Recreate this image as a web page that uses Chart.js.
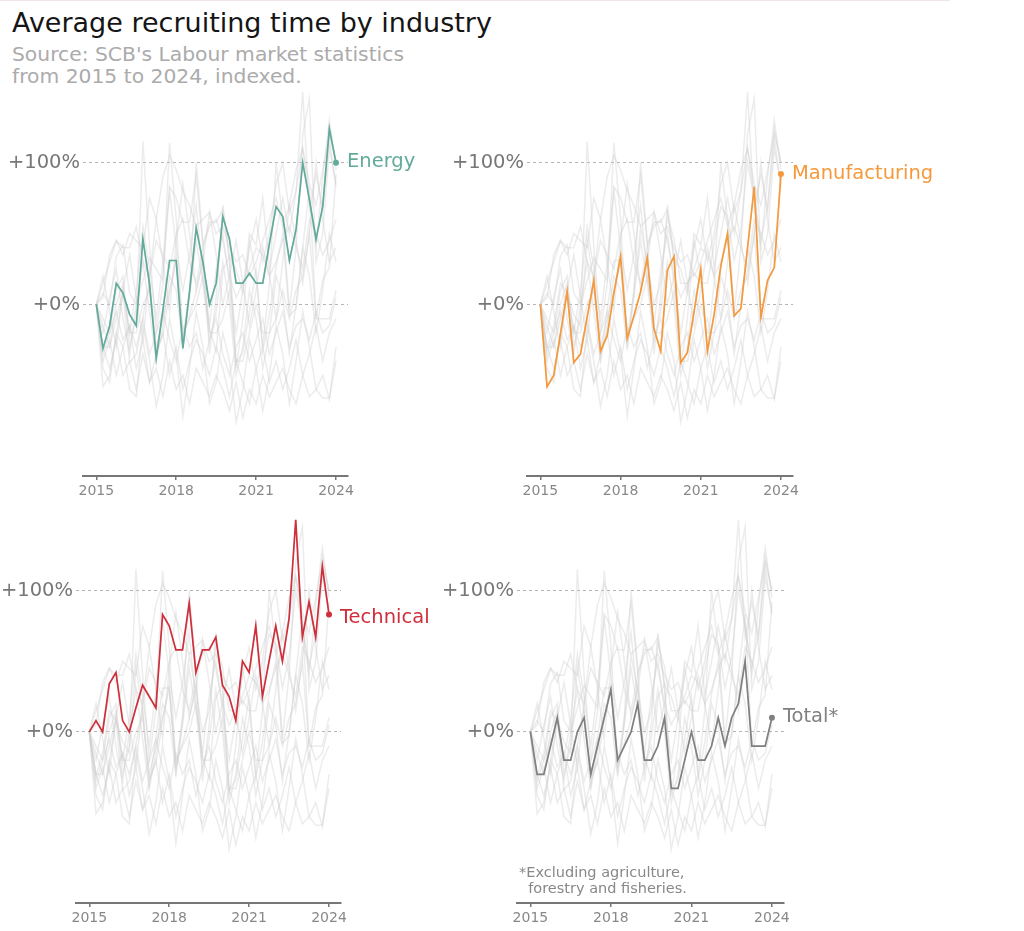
<!DOCTYPE html>
<html lang="en">
<head>
<meta charset="UTF-8">
<title>Average recruiting time by industry</title>
<script src="https://cdn.jsdelivr.net/npm/chart.js@4.4.1/dist/chart.umd.min.js"></script>
<style>
  html, body { margin: 0; padding: 0; background: #fff; overflow: hidden; }
  body { width: 1024px; height: 931px; position: relative; font-family: "DejaVu Sans", sans-serif; }
  .topline { position: absolute; left: 0; top: 0; width: 950px; height: 1px; background: #f2e4ea; }
  h1 { position: absolute; left: 12px; top: 9px; margin: 0; font-size: 27px; line-height: 27px; font-weight: normal; color: #151515; white-space: nowrap; }
  .sub { position: absolute; left: 12px; top: 43px; font-size: 20.3px; line-height: 22px; color: #ababab; white-space: nowrap; }
  .note { position: absolute; left: 519px; top: 864px; font-size: 14.5px; line-height: 16px; color: #888; white-space: pre; }
  canvas { position: absolute; }
</style>
</head>
<body>
<div class="topline"></div>
<h1>Average recruiting time by industry</h1>
<div class="sub">Source: SCB's Labour market statistics<br>from 2015 to 2024, indexed.</div>

<canvas id="energyChart" width="430" height="450" style="left:0;top:70px"></canvas>
<canvas id="manufacturingChart" width="594" height="450" style="left:430px;top:70px"></canvas>
<canvas id="technicalChart" width="430" height="433" style="left:0;top:498px"></canvas>
<canvas id="totalChart" width="594" height="433" style="left:430px;top:498px"></canvas>

<div class="note">*Excluding agriculture,
  forestry and fisheries.</div>

<script>
// quarterly observations, change vs 2015 Q1 in percent
const quarters = ['2015Q1','2015Q2','2015Q3','2015Q4','2016Q1','2016Q2','2016Q3','2016Q4',
  '2017Q1','2017Q2','2017Q3','2017Q4','2018Q1','2018Q2','2018Q3','2018Q4',
  '2019Q1','2019Q2','2019Q3','2019Q4','2020Q1','2020Q2','2020Q3','2020Q4',
  '2021Q1','2021Q2','2021Q3','2021Q4','2022Q1','2022Q2','2022Q3','2022Q4',
  '2023Q1','2023Q2','2023Q3','2023Q4','2024Q1'];
const yearTicks = [2015, 2018, 2021, 2024];
const percentTicks = [0, 100];

const energy =        [0, -31, -15, 15, 8, -7, -15, 46, 14, -38, -4, 31, 31, -31, 9, 54, 30, 0, 15, 62, 46, 15, 15, 22, 15, 15, 43, 69, 62, 31, 53, 100, 74, 46, 69, 124, 100];
const manufacturing = [0, -58, -50, -21, 9, -41, -35, -9, 17, -33, -22, 8, 34, -24, -8, 9, 33, -17, -33, 24, 34, -41, -34, -5, 25, -33, -7, 27, 50, -8, -3, 40, 83, -9, 17, 26, 92];
const technical =     [0, 8, 0, 34, 42, 8, 0, 17, 33, 25, 17, 83, 75, 58, 58, 91, 42, 58, 58, 67, 33, 25, 8, 50, 42, 75, 25, 50, 75, 50, 80, 150, 67, 92, 67, 117, 83];
const total =         [0, -30, -30, -10, 10, -20, -20, 0, 10, -30, -10, 10, 30, -20, -10, 0, 20, -20, -20, -10, 10, -40, -40, -20, 0, -20, -20, -10, 10, -10, 10, 20, 50, -10, -10, -10, 10];

// the other industries, drawn in grey behind every panel
const greyA = [0, -35, -20, 10, 20, -30, -10, 115, 40, -20, 15, 114, 60, -25, 10, 100, 45, -35, 5, 70, 30, -45, -10, 45, 20, -30, 15, 100, 60, -5, 40, 120, 145, 30, 50, 110, 85];
const greyB = [0, 15, 30, 45, 35, 50, 45, 40, 75, 60, 90, 105, 95, 80, 70, 55, 60, 65, 50, 55, 40, 30, 35, 20, 30, 45, 60, 75, 55, 70, 95, 110, 85, 70, 95, 120, 100];
const greyC = [0, -30, -45, -25, -50, -40, -60, -35, -55, -45, -65, -40, -60, -50, -70, -45, -55, -65, -50, -60, -75, -55, -80, -60, -70, -50, -65, -55, -45, -60, -70, -50, -65, -60, -50, -67, -30];
const greyD = [0, -20, 5, 25, -10, -35, 0, 30, -5, -40, -15, 20, 10, -30, 5, 45, 15, -25, -5, 30, 0, -50, -30, 10, -10, -45, -20, 20, 5, -35, 0, 40, 20, -20, 10, 50, 30];
const greyE = [0, 5, 35, 45, 40, 40, 55, 30, 20, 45, 35, 25, 50, 60, 30, 15, 40, 55, 60, 45, 20, 5, 15, 25, 40, 35, 20, 30, 45, 55, 40, 25, 60, 50, 35, 45, 60];
const greyF = [0, -45, -55, -20, -30, -60, -65, -15, -40, -72, -50, -10, -35, -79, -45, -5, -30, -70, -55, -20, -40, -83, -60, -25, -45, -75, -50, -15, -35, -70, -40, -5, -30, -60, -66, -66, -40];
const greyG = [0, -15, -30, 0, 15, -20, 10, 55, 25, -10, 30, 80, 40, 10, 35, 70, 20, -15, 25, 50, 15, -20, 10, 40, 60, 30, 50, 85, 100, 65, 80, 110, 75, 40, 90, 130, 95];
const greyH = [0, -10, -20, -5, -25, -15, -30, -10, -35, -20, -5, -25, -40, -15, -30, -20, -45, -25, -10, -35, -50, -30, -20, -40, -25, -10, -35, -20, -5, -30, -15, -10, -25, -5, -20, -15, 5];
const greyI = [0, 20, -5, -30, 10, 35, 5, -25, 20, 60, 30, -5, 45, 85, 50, 10, 30, 65, 35, 0, 20, 45, 15, -15, 10, 40, 20, -10, 30, 70, 45, 15, 50, 100, 60, 30, 40];
const greyJ = [0, -40, -25, -50, -30, -15, -45, -25, -55, -35, -20, -50, -30, -60, -40, -25, -35, -50, -30, -45, -65, -40, -55, -70, -45, -30, -55, -40, -60, -45, -25, -50, -35, -15, -40, -20, -10];

const allSeries = [energy, manufacturing, technical, total, greyA, greyB, greyC, greyD, greyE, greyF, greyG, greyH, greyI, greyJ];

function quarterX(q) {
  return Number(q.slice(0, 4)) + (Number(q.slice(5)) - 1) / 4;
}
function toPoints(values) {
  return values.map((v, i) => ({ x: quarterX(quarters[i]), y: v }));
}

// writes the industry name next to the last point
const endLabel = {
  id: 'endLabel',
  afterDatasetsDraw(chart, args, opts) {
    const pts = chart.getDatasetMeta(0).data;
    const last = pts[pts.length - 1];
    const ctx = chart.ctx;
    ctx.save();
    ctx.font = '19.5px "DejaVu Sans"';
    ctx.fillStyle = opts.color;
    ctx.textAlign = 'left';
    ctx.textBaseline = 'alphabetic';
    ctx.fillText(opts.text, last.x + 11, last.y + 4.5 + opts.dy);
    ctx.restore();
  }
};

function makePanel(id, box, area, values, color, name, dy) {
  const n = values.length;
  const datasets = [{
    data: toPoints(values),
    borderColor: color,
    borderWidth: 1.7,
    pointRadius: ctx => ctx.dataIndex === n - 1 ? 3 : 0,
    pointBackgroundColor: color,
    pointBorderWidth: 0,
    order: 0,
    clip: false
  }];
  allSeries.forEach(s => datasets.push({
    data: toPoints(s),
    borderColor: 'rgba(205,205,205,0.38)',
    borderWidth: 1.5,
    pointRadius: 0,
    order: 1
  }));

  new Chart(document.getElementById(id), {
    type: 'line',
    data: { datasets: datasets },
    plugins: [endLabel],
    options: {
      responsive: false,
      animation: false,
      events: [],
      layout: { padding: { left: 0, top: area.t - box.y, right: box.x + box.w - area.r, bottom: 0 } },
      plugins: {
        legend: { display: false },
        tooltip: { enabled: false },
        endLabel: { text: name, color: color, dy: dy }
      },
      scales: {
        x: {
          type: 'linear',
          min: 2014.5,
          max: 2024.45,
          afterFit: s => { s.height = box.y + box.h - area.b; },
          afterBuildTicks: s => { s.ticks = yearTicks.map(v => ({ value: v })); },
          ticks: {
            color: '#888',
            font: { family: 'DejaVu Sans', size: 14 },
            padding: 3,
            maxRotation: 0,
            autoSkip: false,
            callback: v => String(v)
          },
          grid: { drawOnChartArea: false, drawTicks: true, tickLength: 4, color: '#777', lineWidth: 1.5 },
          border: { display: true, color: '#777', width: 2 }
        },
        y: {
          min: -121,
          max: 155,
          afterFit: s => { s.width = area.l - box.x; },
          afterBuildTicks: s => { s.ticks = percentTicks.map(v => ({ value: v })); },
          ticks: {
            color: '#777',
            font: { family: 'DejaVu Sans', size: 19.5 },
            padding: 3,
            callback: v => '+' + v + '%'
          },
          grid: { drawTicks: false, color: '#b5b5b5', lineWidth: 1 },
          border: { display: false, dash: [3, 3] }
        }
      }
    }
  });
}

makePanel('energyChart', { x: 0, y: 70, w: 430, h: 450 }, { l: 83, r: 348, t: 81, b: 476 }, energy, '#62ab9b', 'Energy', 0);
makePanel('manufacturingChart', { x: 430, y: 70, w: 594, h: 450 }, { l: 527, r: 793, t: 81, b: 476 }, manufacturing, '#f5993b', 'Manufacturing', 0);
makePanel('technicalChart', { x: 0, y: 498, w: 430, h: 433 }, { l: 76, r: 341, t: 509, b: 903 }, technical, '#cf2e3a', 'Technical', 4);
makePanel('totalChart', { x: 430, y: 498, w: 594, h: 433 }, { l: 517, r: 784, t: 509, b: 903 }, total, '#808080', 'Total*', 0);
</script>
</body>
</html>
